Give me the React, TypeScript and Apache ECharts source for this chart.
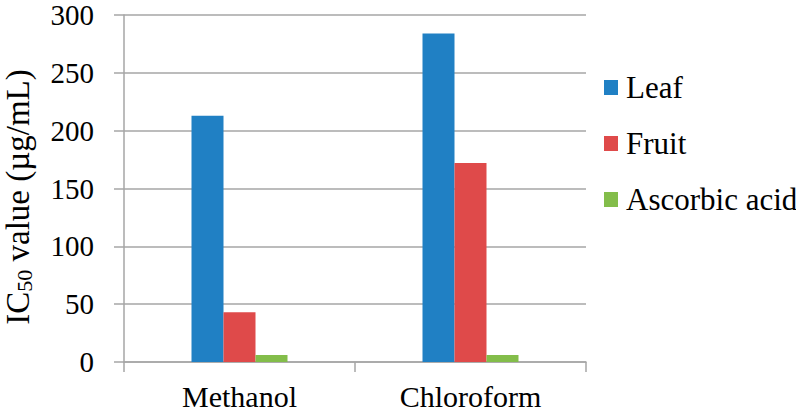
import React, { useEffect, useRef } from "react";
import * as echarts from "echarts";

const categories = ["Methanol", "Chloroform"];
const leafValues = [213, 284];
const fruitValues = [43, 172];
const ascorbicValues = [6, 6];
const yTicks = { min: 0, max: 300, interval: 50 };
const seriesNames = ["Leaf", "Fruit", "Ascorbic acid"];
const colors = ["#2080c4", "#df4a4a", "#83bd4a"];

const FONT = "Liberation Serif";
const GRID_COLOR = "#a6a6a6";

export default function App() {
  const ref = useRef<HTMLDivElement>(null);
  useEffect(() => {
    if (!ref.current) return;
    const chart = echarts.init(ref.current, undefined, { renderer: "svg" });
    const values = [leafValues, fruitValues, ascorbicValues];
    chart.setOption({
      animation: false,
      backgroundColor: "#ffffff",
      color: colors,
      textStyle: { fontFamily: FONT },
      grid: { left: 124, right: 210, top: 15, bottom: 52, containLabel: false },
      legend: {
        orient: "vertical",
        left: 599,
        top: 67,
        itemWidth: 14,
        itemHeight: 15,
        itemGap: 25,
        icon: "rect",
        data: seriesNames,
        textStyle: {
          fontFamily: FONT,
          fontSize: 31,
          lineHeight: 30,
          color: "#000",
          padding: [0, 0, 0, 3],
        },
      },
      xAxis: {
        type: "category",
        data: categories,
        boundaryGap: true,
        axisLine: { show: true, lineStyle: { color: GRID_COLOR, width: 1.5 } },
        axisTick: { show: true, length: 10, lineStyle: { color: GRID_COLOR, width: 1.5 } },
        axisLabel: {
          fontFamily: FONT,
          fontSize: 30,
          lineHeight: 30,
          color: "#000",
          margin: 19,
        },
      },
      yAxis: {
        type: "value",
        min: yTicks.min,
        max: yTicks.max,
        interval: yTicks.interval,
        axisLine: { show: true, lineStyle: { color: GRID_COLOR, width: 1.5 } },
        axisTick: { show: true, length: 10, lineStyle: { color: GRID_COLOR, width: 1.5 } },
        splitLine: { show: true, lineStyle: { color: GRID_COLOR, width: 1.5 } },
        axisLabel: {
          fontFamily: FONT,
          fontSize: 29,
          color: "#000",
          margin: 30,
        },
      },
      graphic: [
        {
          type: "text",
          x: 18,
          y: 197,
          rotation: Math.PI / 2,
          style: {
            text: "{a|IC}{b|50}{a| value (µg/mL)}",
            align: "center",
            verticalAlign: "middle",
            fill: "#000",
            rich: {
              a: { fontFamily: FONT, fontSize: 33, lineHeight: 34, fill: "#000" },
              b: {
                fontFamily: FONT,
                fontSize: 22,
                lineHeight: 20,
                verticalAlign: "bottom",
                fill: "#000",
              },
            },
          },
        },
      ],
      series: seriesNames.map((name, i) => ({
        name,
        type: "bar",
        data: values[i],
        barWidth: 32,
        barGap: "0%",
        itemStyle: { color: colors[i] },
      })),
    });
    return () => chart.dispose();
  }, []);
  return (
    <div
      ref={ref}
      style={{ position: "fixed", left: 0, top: 0, width: 796, height: 414 }}
    />
  );
}
